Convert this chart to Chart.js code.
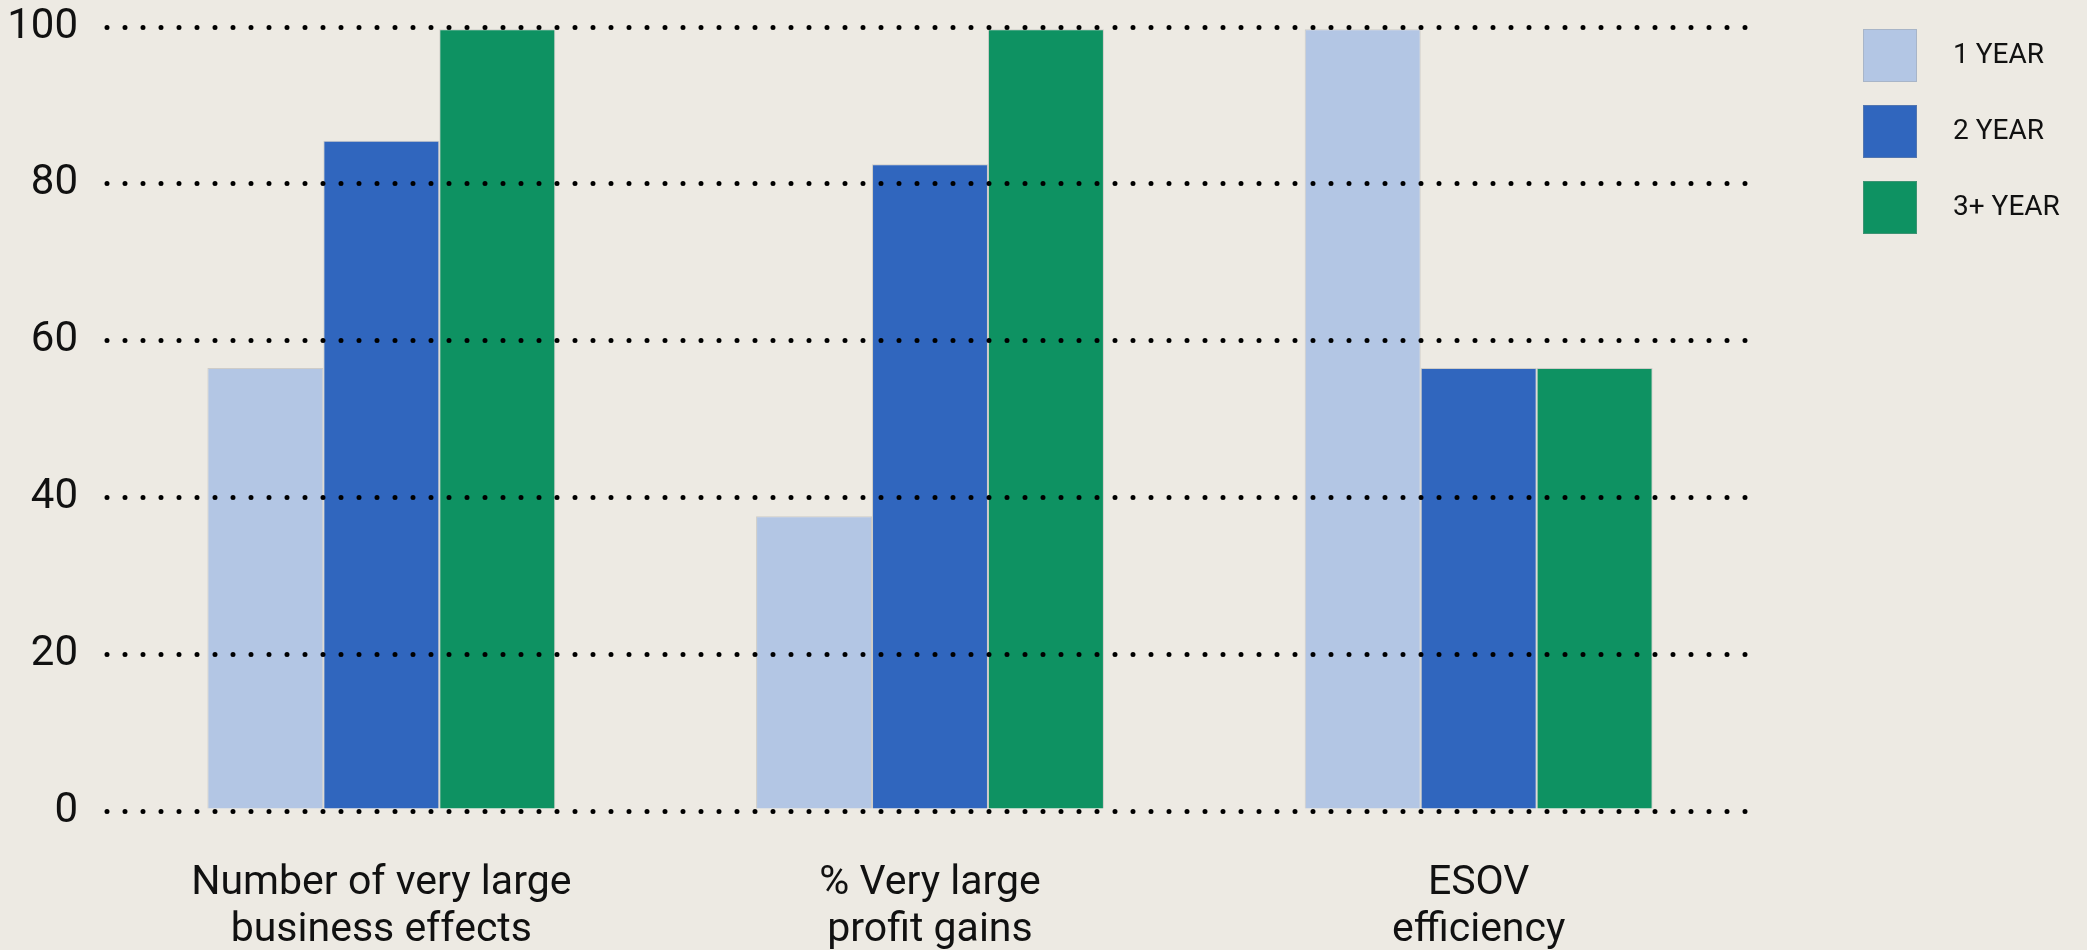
<!DOCTYPE html>
<html>
<head>
<meta charset="utf-8">
<script src="https://cdn.jsdelivr.net/npm/chart.js@4/dist/chart.umd.min.js"></script>
<style>
  html, body { margin: 0; padding: 0; background: #EDEAE3; }
  #wrap { width: 2087px; height: 950px; position: relative; }
</style>
</head>
<body>
<div id="wrap"><canvas id="effectsChart"></canvas></div>
<script>
  const categories = [
    ['Number of very large', 'business effects'],
    ['% Very large', 'profit gains'],
    ['ESOV', 'efficiency']
  ];
  const seriesNames = ['1 YEAR', '2 YEAR', '3+ YEAR'];
  const oneYear = [56.5, 37.6, 99.7];
  const twoYear = [85.5, 82.5, 56.5];
  const threeYear = [99.7, 99.7, 56.5];
  const yTicks = [0, 20, 40, 60, 80, 100];

  const colors = ['#B3C6E4', '#3066BE', '#0E9262'];
  const FONT = 'Roboto, "Liberation Sans", sans-serif';

  // grid dots need round caps, chart.js has no option for that
  const roundCaps = {
    id: 'roundCaps',
    beforeDraw(chart) { chart.ctx.lineCap = 'round'; }
  };

  // legend drawn by hand: box/text gap is wider than the built-in one
  const sideLegend = {
    id: 'sideLegend',
    afterDraw(chart) {
      const ctx = chart.ctx;
      ctx.save();
      ctx.lineCap = 'butt';
      chart.data.datasets.forEach((ds, i) => {
        const x = 1863, y = 29 + i * 76;
        ctx.fillStyle = ds.backgroundColor;
        ctx.fillRect(x, y, 54, 53);
        ctx.strokeStyle = 'rgba(150,150,150,0.35)';
        ctx.lineWidth = 1;
        ctx.strokeRect(x + 0.5, y + 0.5, 53, 52);
        ctx.fillStyle = '#111';
        ctx.font = '28px ' + FONT;
        ctx.textBaseline = 'middle';
        ctx.textAlign = 'left';
        ctx.fillText(ds.label, 1953, y + 27);
      });
      ctx.restore();
    }
  };

  const ctx = document.getElementById('effectsChart').getContext('2d');

  const effectsChart = new Chart(ctx, {
    type: 'bar',
    data: {
      labels: categories,
      datasets: [oneYear, twoYear, threeYear].map((values, i) => ({
        label: seriesNames[i],
        data: values,
        backgroundColor: colors[i],
        borderColor: 'rgba(150,150,150,0.35)',
        borderWidth: 1,
        categoryPercentage: 0.634,
        barPercentage: 1
      }))
    },
    options: {
      responsive: true,
      maintainAspectRatio: false,
      animation: false,
      layout: { padding: { top: 27, right: 334, bottom: 0, left: 0 } },
      plugins: {
        legend: { display: false },
        tooltip: { enabled: false }
      },
      scales: {
        x: {
          grid: { display: false },
          border: { display: false },
          ticks: {
            color: '#111',
            padding: 41,
            font: { family: FONT, size: 41, lineHeight: 1.15 }
          },
          afterFit(scale) {
            scale.height = 139;
            scale.paddingLeft = 0;
            scale.paddingRight = 0;
          }
        },
        y: {
          min: 0,
          max: 100,
          afterBuildTicks(scale) { scale.ticks = yTicks.map(v => ({ value: v })); },
          grid: { color: '#000', lineWidth: 5, drawTicks: false, z: 1 },
          border: { display: false, dash: [0, 18] },
          ticks: {
            color: '#111',
            padding: 29,
            font: { family: FONT, size: 42 }
          },
          afterFit(scale) {
            scale.width = 107;
            scale.paddingTop = 0;
            scale.paddingBottom = 0;
          }
        }
      }
    },
    plugins: [roundCaps, sideLegend]
  });
</script>
</body>
</html>
